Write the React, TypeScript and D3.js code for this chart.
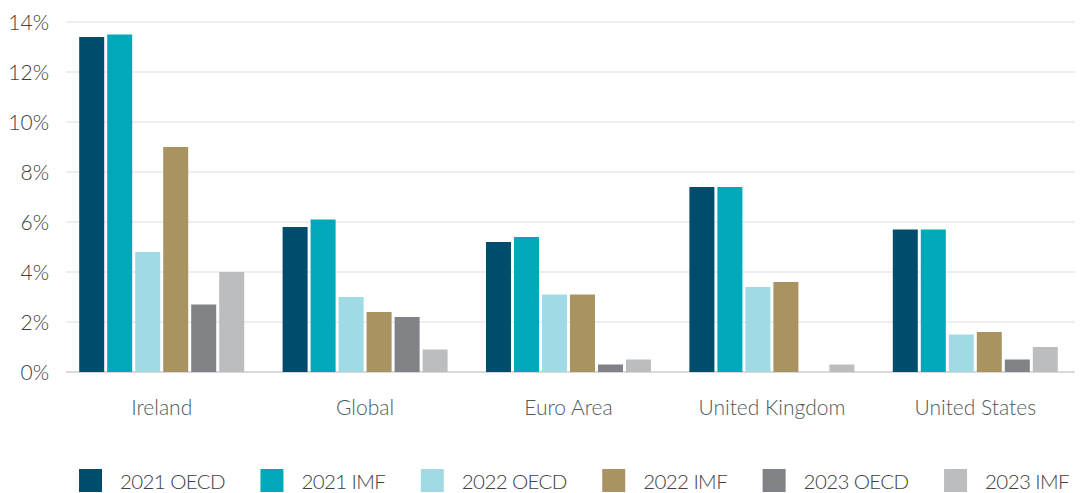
import React, { useMemo } from "react";
import * as d3 from "d3";

const categories = ["Ireland", "Global", "Euro Area", "United Kingdom", "United States"];
const seriesNames = ["2021 OECD", "2021 IMF", "2022 OECD", "2022 IMF", "2023 OECD", "2023 IMF"];
const seriesColors = ["#004c6c", "#00a9b9", "#a0dae5", "#a89361", "#818285", "#bcbdbf"];
const oecd2021 = [13.4, 5.8, 5.2, 7.4, 5.7];
const imf2021 = [13.5, 6.1, 5.4, 7.4, 5.7];
const oecd2022 = [4.8, 3.0, 3.1, 3.4, 1.5];
const imf2022 = [9.0, 2.4, 3.1, 3.6, 1.6];
const oecd2023 = [2.7, 2.2, 0.3, 0, 0.5];
const imf2023 = [4.0, 0.9, 0.5, 0.3, 1.0];
const seriesValues = [oecd2021, imf2021, oecd2022, imf2022, oecd2023, imf2023];
const yTicks = [0, 2, 4, 6, 8, 10, 12, 14];

const W = 1080;
const H = 493;
const FONT = "Lato, 'Open Sans', sans-serif";
const AXIS_FS = 21;
const LEGEND_FS = 20.5;
const LEGEND_LS = -0.6;

export default function App() {
  const x0 = d3.scaleBand<string>().domain(categories).range([60, 1077]).paddingInner(0).paddingOuter(0);
  const y = d3.scaleLinear().domain([0, 14]).range([372, 22]);
  const groupW = 165;
  const x1 = d3
    .scaleBand<string>()
    .domain(seriesNames)
    .range([0, groupW])
    .paddingInner(3 / 28)
    .paddingOuter(0);

  const legendLayout = useMemo(() => {
    let widths = seriesNames.map((s) => s.length * 11);
    try {
      const c = document.createElement("canvas").getContext("2d");
      if (c) {
        c.font = `300 ${LEGEND_FS}px ${FONT}`;
        widths = seriesNames.map((s) => c.measureText(s).width + LEGEND_LS * s.length);
      }
    } catch (e) {}
    const items: { x: number; name: string; color: string }[] = [];
    let cx = 79;
    seriesNames.forEach((s, i) => {
      items.push({ x: cx, name: s, color: seriesColors[i] });
      cx += 41 + widths[i] + 35.5;
    });
    return items;
  }, []);

  return (
    <svg
      width={W}
      height={H}
      style={{ position: "absolute", left: 0, top: 0, background: "#fff" }}
      fontFamily={FONT}
    >
      {yTicks.map((t) => (
        <g key={t}>
          <line
            x1={66}
            x2={1075}
            y1={y(t)}
            y2={y(t)}
            stroke={t === 0 ? "#d9d9d9" : "#e8e8e8"}
            strokeWidth={t === 0 ? 2 : 1.5}
          />
          <text
            x={49}
            y={y(t)}
            dy="0.36em"
            textAnchor="end"
            fontSize={AXIS_FS}
            fontWeight={300}
            fill="#404040"
          >
            {t}%
          </text>
        </g>
      ))}
      {categories.map((cat, ci) => {
        const bx = (x0(cat) as number) + (x0.bandwidth() - groupW) / 2;
        return (
          <g key={cat}>
            {seriesNames.map((s, si) => {
              const v = seriesValues[si][ci];
              if (!v) return null;
              return (
                <rect
                  key={s}
                  x={bx + (x1(s) as number)}
                  y={y(v)}
                  width={x1.bandwidth()}
                  height={y(0) - y(v)}
                  fill={seriesColors[si]}
                />
              );
            })}
            <text
              x={(x0(cat) as number) + x0.bandwidth() / 2}
              y={415}
              textAnchor="middle"
              fontSize={AXIS_FS}
              fontWeight={300}
              fill="#4d5b5b"
            >
              {cat}
            </text>
          </g>
        );
      })}
      {legendLayout.map((it) => (
        <g key={it.name}>
          <rect x={it.x} y={469} width={23} height={23} fill={it.color} />
          <text
            x={it.x + 41}
            y={489}
            fontSize={LEGEND_FS}
            fontWeight={300}
            letterSpacing={LEGEND_LS}
            fill="#404040"
          >
            {it.name}
          </text>
        </g>
      ))}
    </svg>
  );
}
